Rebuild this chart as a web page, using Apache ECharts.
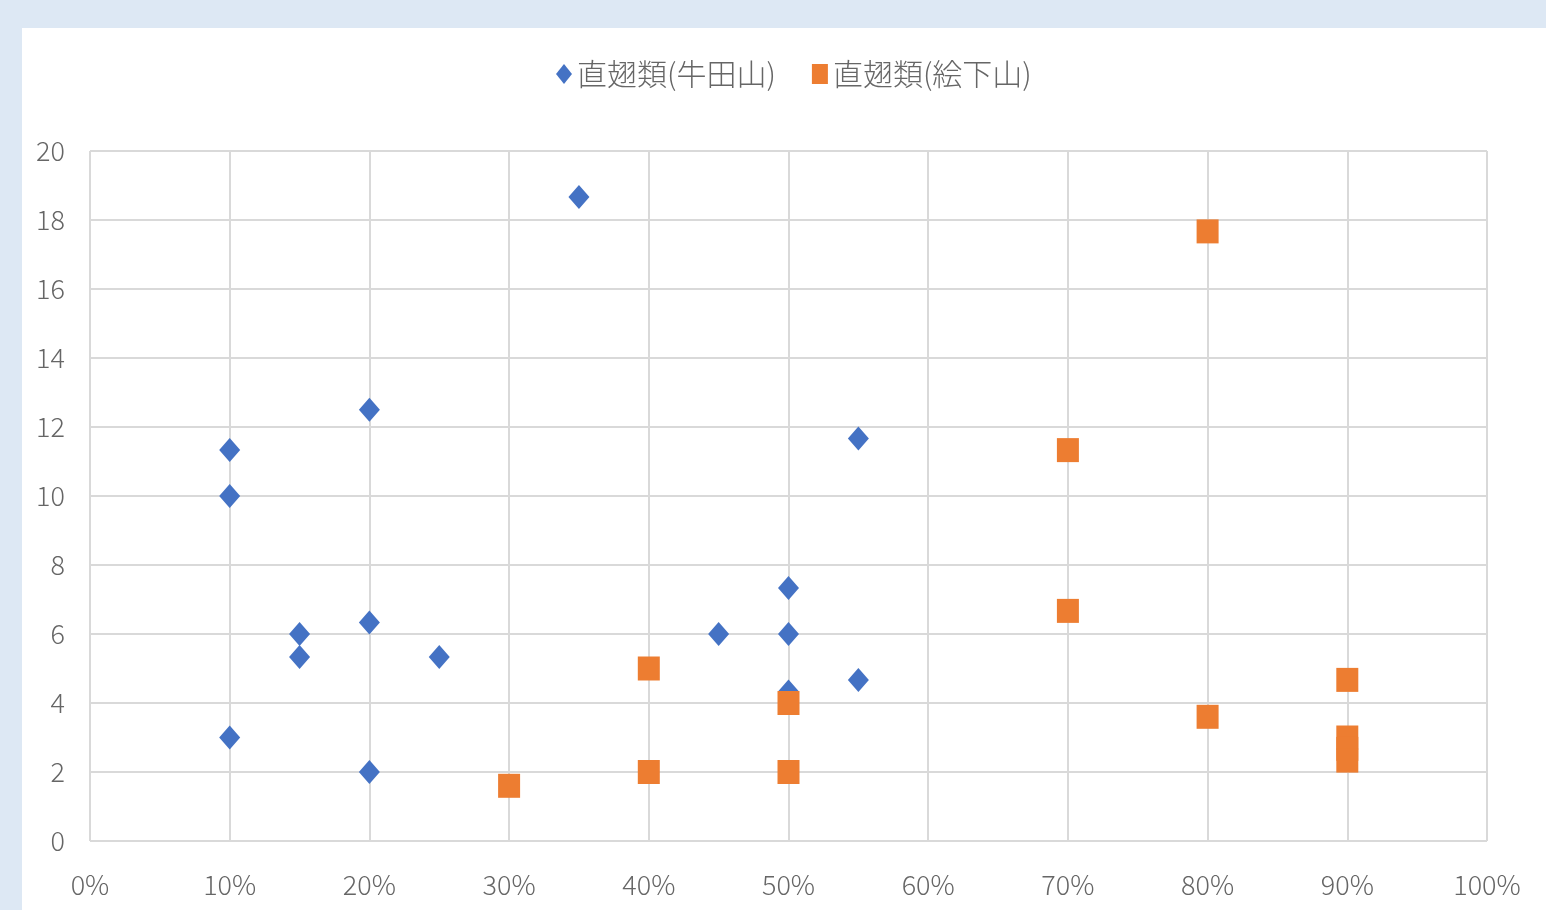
<!DOCTYPE html>
<html>
<head>
<meta charset="utf-8">
<script src="https://cdn.jsdelivr.net/npm/echarts@6/dist/echarts.min.js"></script>
<style>
  html, body { margin: 0; padding: 0; background: #dde8f4; }
  #frame { position: absolute; left: 22px; top: 28px; width: 1524px; height: 882px; background: #ffffff; }
  #chart { position: absolute; left: 0; top: 0; width: 1546px; height: 910px; }
</style>
</head>
<body>
<div id="frame"></div>
<div id="chart"></div>
<script>
// Share (%) on x, count on y
const seriesNames = ['直翅類(牛田山)', '直翅類(絵下山)'];

const ushidaX = [10, 10, 10, 15, 15, 20, 20, 20, 25, 35, 45, 50, 50, 50, 55, 55];
const ushidaY = [11.33, 10, 3, 6, 5.33, 12.5, 6.33, 2, 5.33, 18.67, 6, 7.33, 6, 4.33, 11.67, 4.67];

const eshitaX = [30, 40, 40, 50, 50, 70, 70, 80, 80, 90, 90, 90, 90];
const eshitaY = [1.6, 5, 2, 4, 2, 11.33, 6.67, 17.67, 3.6, 4.67, 3, 2.67, 2.33];

const xTicks = [0, 10, 20, 30, 40, 50, 60, 70, 80, 90, 100];
const yTicks = [0, 2, 4, 6, 8, 10, 12, 14, 16, 18, 20];

const pairs = (xs, ys) => xs.map((x, i) => [x, ys[i]]);

const chart = echarts.init(document.getElementById('chart'));
const labelFont = { color: '#666666', fontSize: 27, fontWeight: 300, fontFamily: '"Noto Sans CJK JP", sans-serif' };
const gridLine = { show: true, lineStyle: { color: '#d9d9d9', width: 2 } };

chart.setOption({
  backgroundColor: 'transparent',
  animation: false,
  legend: {
    top: 54,
    left: 551,
    itemGap: 36,
    itemWidth: 16,
    itemHeight: 20,
    textStyle: { color: '#666666', fontSize: 30, fontWeight: 300, fontFamily: '"Noto Sans CJK JP", sans-serif' },
    data: [
      { name: seriesNames[0], icon: 'diamond' },
      { name: seriesNames[1], icon: 'rect' }
    ]
  },
  grid: { left: 90, right: 59, top: 151, bottom: 69, containLabel: false },
  xAxis: {
    type: 'value',
    min: xTicks[0],
    max: xTicks[xTicks.length - 1],
    interval: 10,
    axisLine: { show: false },
    axisTick: { show: false },
    splitLine: gridLine,
    axisLabel: Object.assign({ margin: 30, formatter: v => v + '%' }, labelFont)
  },
  yAxis: {
    type: 'value',
    min: yTicks[0],
    max: yTicks[yTicks.length - 1],
    interval: 2,
    axisLine: { show: false },
    axisTick: { show: false },
    splitLine: gridLine,
    axisLabel: Object.assign({ margin: 25 }, labelFont)
  },
  series: [
    {
      name: seriesNames[0],
      type: 'scatter',
      symbol: 'diamond',
      symbolSize: [21, 24],
      itemStyle: { color: '#4472c4', opacity: 1 },
      data: pairs(ushidaX, ushidaY),
      z: 2
    },
    {
      name: seriesNames[1],
      type: 'scatter',
      symbol: 'rect',
      symbolSize: [22, 24],
      itemStyle: { color: '#ed7d31', opacity: 1 },
      data: pairs(eshitaX, eshitaY),
      z: 3
    }
  ]
});
</script>
</body>
</html>
